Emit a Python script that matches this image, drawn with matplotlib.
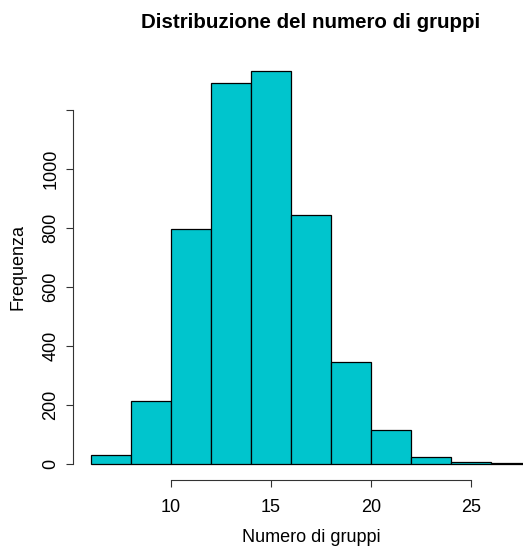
import matplotlib
matplotlib.use("Agg")
import matplotlib.pyplot as plt
import numpy as np

plt.rcParams['font.family'] = ['Liberation Sans', 'DejaVu Sans']

bin_edges = [6, 8, 10, 12, 14, 16, 18, 20, 22, 24, 26, 28]
counts = [29, 212, 795, 1292, 1331, 844, 345, 114, 23, 6, 2]
x_ticks = [10, 15, 20, 25]
y_ticks = [0, 200, 400, 600, 800, 1000, 1200]
y_ticklabels = ["0", "200", "400", "600", "800", "1000", ""]

title = "Distribuzione del numero di gruppi"
xlabel = "Numero di gruppi"
ylabel = "Frequenza"
fill = "#00C5CD"

W, H = 523, 549
fig = plt.figure(figsize=(W / 100, H / 100), dpi=100)
left_px, right_px = 73.4, 548.6
top_px, bottom_px = 55.3, 479.7
ax = fig.add_axes([left_px / W, 1 - bottom_px / H, (right_px - left_px) / W, (bottom_px - top_px) / H])

edges = np.array(bin_edges, dtype=float)
ax.bar(edges[:-1], counts, width=np.diff(edges), align='edge', color=fill,
       edgecolor='black', linewidth=0.9)

xr = edges[-1] - edges[0]
ax.set_xlim(edges[0] - 0.04 * xr, edges[-1] + 0.04 * xr)
ymax = max(counts)
ax.set_ylim(-0.04 * ymax, ymax * 1.04)

for s in ['top', 'right']:
    ax.spines[s].set_visible(False)
ax.spines['left'].set_bounds(y_ticks[0], y_ticks[-1])
ax.spines['bottom'].set_bounds(x_ticks[0], x_ticks[-1])
for s in ['left', 'bottom']:
    ax.spines[s].set_linewidth(0.8)
    ax.spines[s].set_color('#333333')

ax.set_xticks(x_ticks)
ax.set_xticklabels([str(t) for t in x_ticks])
ax.set_yticks(y_ticks)
ax.set_yticklabels(y_ticklabels, rotation=90, va='center')
ax.tick_params(axis='both', direction='out', length=5.2, width=0.8, color='#333333',
               labelsize=13)
ax.tick_params(axis='x', pad=9)
ax.tick_params(axis='y', pad=5)

fig.text((left_px + right_px) / 2 / W, 1 - 23 / H, title, ha='center', va='center',
         fontsize=14.8, fontweight='bold')
fig.text((left_px + right_px) / 2 / W, 1 - 538 / H, xlabel, ha='center', va='center',
         fontsize=13)
fig.text(17.5 / W, 1 - 267 / H, ylabel, ha='center', va='center', rotation=90,
         fontsize=13)

fig.savefig("out.png", dpi=100)
